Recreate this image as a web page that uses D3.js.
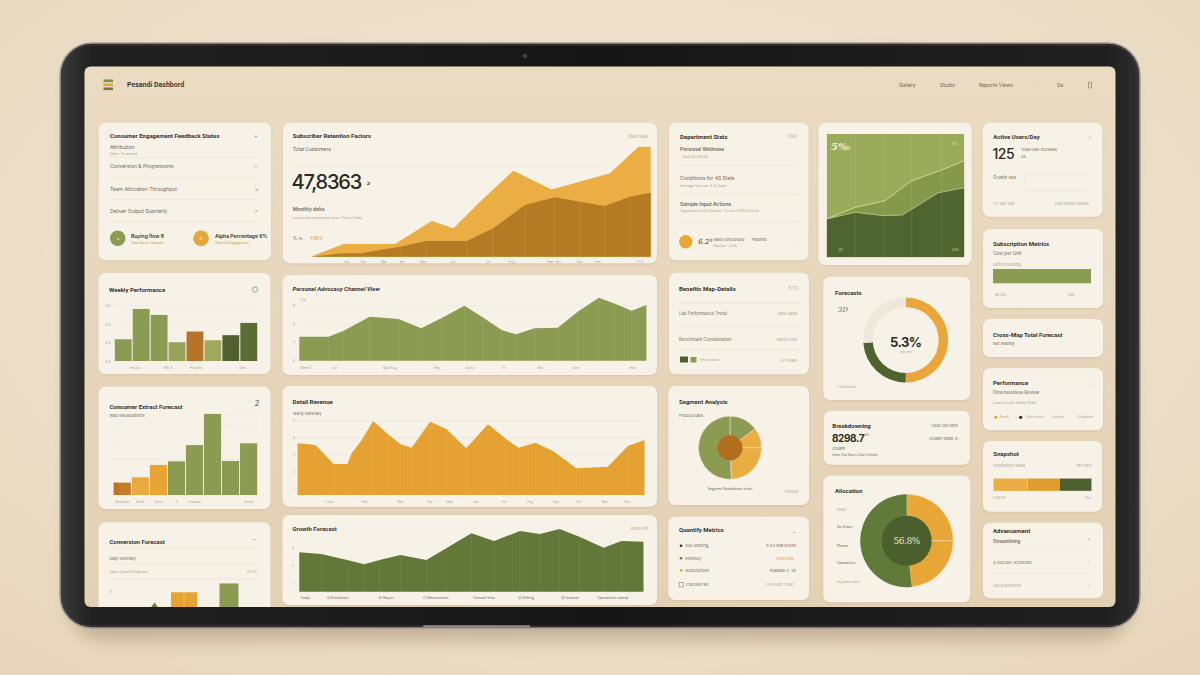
<!DOCTYPE html>
<html><head><meta charset="utf-8">
<script src="https://cdn.jsdelivr.net/npm/d3@7"></script>
<style>html,body{margin:0;padding:0;background:#efe3cf;overflow:hidden}svg{display:block}</style>
</head><body>
<svg id="chart" width="1200" height="675"></svg>
<script>
// ---------------- DATA ----------------
// Subscriber retention (card B)
const retentionPos = [0, 9.6, 24.8, 35.6, 42, 49.8, 59.6, 70.9, 88, 96.4, 100];
const retentionTotal = [0, 11.5, 11.5, 32.5, 25.8, 50, 78.2, 61.2, 75.8, 100, 100];
const retainedPos = [0, 9.6, 15, 20.4, 26.3, 34.1, 45.9, 53.7, 63, 71.8, 79.2, 86.5, 93.9, 100];
const retainedValues = [0, 3.1, 3.1, 6.1, 9.1, 14.3, 14.3, 25.8, 47, 54, 50, 46.1, 54.5, 58.2];
const retentionTickPos = [10.6, 15.5, 21.6, 26.8, 33.1, 41.8, 52.2, 59.1, 70.4, 72.8, 79.2, 84.6, 96.9];
const retentionTickLabels = ["Jan", "Feb", "Mar", "Apr", "May", "Jun", "Jul", "Aug", "Sep", "Oct", "Nov", "Dec", "YTD"];

// Share chart (card D)
const shareUpperPos = [0, 20.6, 42.4, 61.8, 83.6, 100];
const shareUpper = [31.1, 40.5, 45.9, 62.1, 70.8, 78.3];
const shareLowerPos = [0, 20.6, 41.2, 55, 81.2, 100];
const shareLower = [31.1, 36.5, 33.8, 34.3, 52.4, 56.4];

// Weekly performance bars (card G)
const weeklyCategories = ["Mon", "Focus", "Wed", "Wk 4", "Amplify", "Sat", "Sun", "Dec"];
const weeklyValues = [2.36, 5.65, 5.0, 2.03, 3.2, 2.25, 2.8, 4.13];
const weeklyTicks = [0, 2, 4, 6];
const weeklyTickLabels = ["Focus", "Wk 4", "Amplify", "Dec"];

// Advocacy channel area (card H)
const channelPos = [0, 8.4, 12.8, 20.3, 28.6, 35.1, 40.9, 47.6, 52.8, 58.3, 62.4, 67.8, 74.5, 80.2, 86.3, 90.6, 95.8, 100];
const channelValues = [3.93, 3.93, 4.91, 7.2, 6.82, 5.3, 6.94, 9.0, 7.1, 5.02, 4.32, 5.3, 5.4, 8.02, 10.3, 9.4, 8.18, 9.1];
const channelTicks = [0, 3, 6, 9];
const channelTickPos = [0.2, 10.2, 26.1, 39.6, 49.2, 59, 69.6, 79.7, 96];
const channelTickLabels = ["Week 1", "Jul", "Mid-Aug", "Sep", "Early", "N", "Nov", "Dec", "Year"];

// Forecast donut (card J)
const forecastShareLabels = ["Ahead", "On track", "Pending"];
const forecastShareValues = [50, 23.9, 26.1];

// Consumer forecast bars (card M)
const forecastCategories = ["Baseline", "Build", "Grow", "A", "Expand", "Peak", "Hold", "Scale"];
const forecastValues = [7, 10, 17, 19, 28.2, 45.8, 19.2, 29.2];
const forecastTicks = [0, 20, 30, 40];
const forecastTickLabels = ["Baseline", "Build", "Grow", "A", "Expand", "Scale"];

// Revenue area (card N)
const revenuePos = [0, 5.2, 10.4, 14.4, 15.6, 18.5, 21.8, 26, 29.7, 32.9, 38.2, 42.9, 48.6, 54.9, 60.1, 63.7, 68.6, 73.6, 80.4, 89.4, 95.2, 100];
const revenueValues = [3.68, 3.58, 2.47, 2.47, 3.10, 3.87, 4.98, 4.22, 3.62, 3.42, 4.94, 4.52, 3.39, 4.79, 3.93, 3.42, 3.71, 3.23, 2.22, 2.31, 3.52, 3.87];
const revenueTicks = [1, 2, 3, 4, 5];
const revenueTickPos = [9.1, 19.3, 29.7, 38.2, 43.9, 51.4, 59.5, 67, 74.4, 81.1, 88.6, 95.1];
const revenueTickLabels = ["7 Jan", "Feb", "Mar", "Apr", "May", "Jun", "Jul", "Aug", "Sep", "Oct", "Nov", "Dec"];

// Segment pie (card O)
const segmentLabels = ["North", "East", "South", "West"];
const segmentValues = [14.7, 10.3, 24.4, 50.6];

// Snapshot stacked bar (card Q)
const snapshotLabels = ["Direct", "Partner", "Retail"];
const snapshotValues = [34, 32, 32.4];

// Allocation pie (card R)
const allocationLabels = ["Sq Green", "Planes", "Operations"];
const allocationValues = [25, 23.2, 51.8];

// Conversion bars (card S)
const conversionCategories = ["Lead", "Trial", "Paid", "Loyal"];
const conversionValues = [2.9, 3.97, 0, 4.9];

// Growth area (card T)
const growthPos = [0, 6.4, 13.9, 18.9, 23.3, 29.4, 36.9, 42.7, 50, 56.6, 64.1, 69.9, 75.6, 81.4, 88.4, 93.6, 100];
const growthValues = [2.75, 2.65, 2.33, 2.09, 2.33, 2.6, 2.33, 2.97, 3.78, 3.36, 3.91, 3.74, 4.02, 3.6, 3.0, 3.36, 3.32];
const growthTicks = [1, 2, 3];
const growthTickPos = [1.7, 11.2, 25.2, 39.7, 53.7, 65.9, 78.6, 91.1];
const growthTickLabels = ["Today", "Q Distribution", "Ar Report", "Fi Reinvestment", "Forward View", "Q Shifting", "Q1 revenue", "Operational outlook"];

// Subscription capacity (card F)
const capacityValue = 100;

// ---------------- STYLE ----------------
const C = {
  ink: '#36312a', mid: '#6f675b', light: '#ada392', faint: '#ebe4d6', card: '#f7f2e8',
  orange: '#e8a637', orangeL: '#ebb04a', brown: '#b47a25', green: '#8b9b52',
  greenD: '#4d6130', greenM: '#637a38'
};
const FONT = "'Inter','Roboto','DejaVu Sans',sans-serif";
const COND = "'Liberation Sans Narrow','Roboto','Inter',sans-serif";

const svg = d3.select('#chart');
const W = 1200, H = 675;
const defs = svg.append('defs');

function grad(id, stops, vertical = true) {
  const g = defs.append('linearGradient').attr('id', id)
    .attr('x1', 0).attr('y1', 0).attr('x2', vertical ? 0 : 1).attr('y2', vertical ? 1 : 0);
  stops.forEach(s => g.append('stop').attr('offset', s[0]).attr('stop-color', s[1]));
}

// background
const bgG = defs.append('radialGradient').attr('id', 'bg').attr('cx', '50%').attr('cy', '40%').attr('r', '75%');
bgG.append('stop').attr('offset', '0%').attr('stop-color', '#f2e8d8');
bgG.append('stop').attr('offset', '100%').attr('stop-color', '#e8d7bd');
svg.append('rect').attr('width', W).attr('height', H).attr('fill', 'url(#bg)');

// tablet shadow
const fs = defs.append('filter').attr('id', 'tabShadow').attr('x', '-10%').attr('y', '-10%').attr('width', '120%').attr('height', '130%');
fs.append('feGaussianBlur').attr('stdDeviation', 9);
svg.append('rect').attr('x', 70).attr('y', 56).attr('width', 1060).attr('height', 584).attr('rx', 34)
  .attr('fill', '#6b5434').attr('opacity', 0.32).attr('filter', 'url(#tabShadow)');

// bezel
grad('bezel', [[0, '#3b3b3b'], [0.03, '#202020'], [0.5, '#161616'], [0.97, '#1f1f1f'], [1, '#303030']], false);
svg.append('rect').attr('x', 60).attr('y', 43).attr('width', 1080).attr('height', 585).attr('rx', 32)
  .attr('fill', 'url(#bezel)').attr('stroke', '#a19e98').attr('stroke-width', 1.5);
svg.append('rect').attr('x', 62).attr('y', 45).attr('width', 1076).attr('height', 581).attr('rx', 30)
  .attr('fill', 'none').attr('stroke', '#3e3e3e').attr('stroke-width', 1);
svg.append('circle').attr('cx', 525).attr('cy', 56).attr('r', 1.8).attr('fill', '#3a3a3a').attr('stroke', '#555').attr('stroke-width', 0.6);
svg.append('circle').attr('cx', 552).attr('cy', 56).attr('r', 0.8).attr('fill', '#333');
svg.append('rect').attr('x', 423).attr('y', 625.3).attr('width', 107).attr('height', 2).attr('rx', 1).attr('fill', '#8d8d8d');

// screen
grad('screen', [[0, '#eadbc2'], [1, '#e3d1b4']]);
svg.append('rect').attr('x', 84.5).attr('y', 66.5).attr('width', 1031).attr('height', 540.5).attr('rx', 6).attr('fill', 'url(#screen)');
defs.append('clipPath').attr('id', 'scr').append('rect').attr('x', 84.5).attr('y', 66.5).attr('width', 1031).attr('height', 540.5).attr('rx', 6);
const S = svg.append('g').attr('clip-path', 'url(#scr)');

const cf = defs.append('filter').attr('id', 'cardShadow').attr('x', '-5%').attr('y', '-5%').attr('width', '110%').attr('height', '115%');
cf.append('feDropShadow').attr('dx', 0).attr('dy', 1).attr('stdDeviation', 1.2).attr('flood-color', '#a98f66').attr('flood-opacity', 0.25);

function card(x, y, w, h) {
  const g = S.append('g');
  g.append('rect').attr('x', x).attr('y', y).attr('width', w).attr('height', h).attr('rx', 7)
    .attr('fill', C.card).attr('filter', 'url(#cardShadow)');
  return g;
}
function T(g, x, y, s, o = {}) {
  return g.append('text').attr('x', x).attr('y', y)
    .attr('font-family', o.family || FONT)
    .attr('font-size', o.size || 5)
    .attr('font-weight', o.weight || 400)
    .attr('fill', o.fill || C.ink)
    .attr('text-anchor', o.anchor || 'start')
    .attr('dominant-baseline', o.base || 'central')
    .attr('font-style', o.italic ? 'italic' : null)
    .attr('letter-spacing', o.ls != null ? o.ls : null)
    .text(s);
}
function hl(g, x1, x2, y, color = C.faint, w = 0.7) {
  g.append('line').attr('x1', x1).attr('x2', x2).attr('y1', y).attr('y2', y).attr('stroke', color).attr('stroke-width', w);
}
const TITLE = { size: 6, weight: 700, family: COND };

// ---------------- HEADER ----------------
[[79.5, '#7d8f45'], [83.5, '#dcaa3c'], [87.5, '#6d7c4c']].forEach(b =>
  S.append('rect').attr('x', 103.5).attr('y', b[0]).attr('width', 9.5).attr('height', 2.6).attr('fill', b[1]));
T(S, 127, 85, 'Pesandi Dashbord', { size: 7, weight: 600, family: COND });
[['Gallery', 899], ['Studio', 940], ['Reports Views', 979], ['·', 1034.5], ['Sa', 1057]].forEach(m =>
  T(S, m[1], 85, m[0], { size: 5, fill: C.mid, anchor: 'start' }));
S.append('rect').attr('x', 1088.5).attr('y', 82).attr('width', 3).attr('height', 6).attr('rx', 0.8).attr('fill', 'none').attr('stroke', C.mid).attr('stroke-width', 0.6);

// ---------------- CARD A ----------------
{
  const g = card(98.5, 122.7, 172.5, 137.5);
  T(g, 110, 135, 'Consumer Engagement Feedback Status', TITLE);
  T(g, 255, 136, '▴', { size: 3.5, fill: C.mid });
  T(g, 110, 147.3, 'Attribution', { size: 5, fill: C.mid });
  T(g, 110, 153.8, 'Data · 4 tracked', { size: 3.6, fill: C.light });
  [157.5, 177.5, 199.5, 222].forEach(y => hl(g, 110, 258, y));
  T(g, 110, 166, 'Conversion & Progressions', { size: 5, fill: C.mid });
  T(g, 110, 189, 'Team Allocation Throughput', { size: 5, fill: C.mid });
  T(g, 110, 211, 'Deliver Output Quarterly', { size: 5, fill: C.mid });
  T(g, 254, 166, '▫', { size: 5, fill: C.light });
  T(g, 254, 189, '⇲', { size: 5, fill: C.light });
  T(g, 254, 211, '↗', { size: 5, fill: C.light });
  g.append('circle').attr('cx', 117.7).attr('cy', 238.3).attr('r', 7.8).attr('fill', C.green);
  T(g, 117.7, 238.5, '◂', { size: 4, fill: '#f1ecd8', anchor: 'middle' });
  T(g, 131, 236.3, 'Buying flow 8', { size: 5, weight: 600 });
  T(g, 131, 243.3, 'Year Basis: Sample', { size: 3.6, fill: '#d39a35' });
  g.append('circle').attr('cx', 201).attr('cy', 238.3).attr('r', 7.8).attr('fill', C.orange);
  T(g, 201, 238.5, '↓', { size: 4.5, fill: '#fbf1d8', anchor: 'middle' });
  T(g, 215, 236.3, 'Alpha Percentage 6%', { size: 5, weight: 600 });
  T(g, 215, 243.3, 'Pace & Engagement', { size: 3.6, fill: '#d39a35' });
}

// ---------------- CARD B ----------------
{
  const g = card(283, 122.7, 374, 140.6);
  T(g, 292.7, 135.7, 'Subscriber Retention Factors', TITLE);
  T(g, 648, 136, 'Start Date', { size: 4.2, fill: C.light, anchor: 'end' });
  T(g, 292.7, 149, 'Total Customers', { size: 5.2, fill: C.mid, family: COND });
  hl(g, 292, 605, 166.7);
  T(g, 291.5, 188.5, '47,8363', { size: 20, weight: 500, base: 'alphabetic', ls: -1.2, fill: '#2e2a24' });
  T(g, 367, 181, '₂', { size: 8, italic: true, fill: C.ink });
  T(g, 292.7, 209, 'Monthly delta', { size: 4.8, weight: 600, fill: C.mid });
  T(g, 292.7, 217.7, 'Last period comparison base: Ynd to Today', { size: 3.4, fill: C.light });
  T(g, 292.7, 238.3, '%  ∞', { size: 4.6, fill: C.mid });
  T(g, 310, 238.3, '4,800', { size: 4.6, fill: '#d8982e' });

  const bx = d3.scaleLinear().domain([0, 100]).range([310.7, 650.7]);
  const by = d3.scaleLinear().domain([0, 100]).range([256.7, 146.7]);
  const area = d3.area().x(d => bx(d[0])).y0(by(0)).y1(d => by(d[1]));
  g.append('path').attr('d', area(d3.zip(retentionPos, retentionTotal))).attr('fill', '#eaae44');
  g.append('path').attr('d', area(d3.zip(retainedPos, retainedValues))).attr('fill', '#b47a24');
  d3.zip(retainedPos, retainedValues).slice(1, -1).forEach(d =>
    g.append('line').attr('x1', bx(d[0])).attr('x2', bx(d[0])).attr('y1', by(0)).attr('y2', by(d[1]))
      .attr('stroke', '#d8a655').attr('stroke-width', 0.7).attr('opacity', 0.45));
  retentionTickPos.forEach((p, i) => T(g, bx(p), 261.5, retentionTickLabels[i], { size: 3.2, fill: C.light, anchor: 'middle' }));
}

// ---------------- CARD C ----------------
{
  const g = card(669, 122.7, 139.5, 137.5);
  T(g, 680, 136, 'Department Stats', TITLE);
  T(g, 797, 136, '1.9/4', { size: 4.2, fill: C.light, anchor: 'end' });
  T(g, 680, 149.3, 'Personal Wellness', { size: 5, weight: 600, fill: C.mid });
  T(g, 682, 157.3, 'Total 42,158.08', { size: 3.6, fill: C.light });
  hl(g, 680, 798, 165.5);
  T(g, 680, 178.3, 'Conditions for 4S Stats', { size: 5, fill: C.mid });
  T(g, 680, 186, 'Average flow per 4 Outlook', { size: 3.6, fill: C.light });
  hl(g, 680, 798, 194);
  T(g, 680, 204, 'Sample Input Actions', { size: 5, weight: 600, fill: C.mid });
  T(g, 680, 210.7, 'Organization Unit Calculate · Current 1.2000 Outlook', { size: 3.2, fill: C.light });
  hl(g, 680, 798, 221.7);
  g.append('circle').attr('cx', 685.7).attr('cy', 241.7).attr('r', 6.7).attr('fill', C.orange);
  T(g, 698.3, 242, '6.2³', { size: 7, italic: true, fill: C.ink, family: "'DejaVu Serif',serif" });
  T(g, 713.3, 239.3, 'Sales Disclosure', { size: 4, fill: C.mid });
  T(g, 751.7, 239.3, 'Pipeline', { size: 4, fill: C.mid });
  T(g, 713.3, 246, 'Pipeline · Cash', { size: 3.4, fill: C.light });
  T(g, 791, 241.5, '–', { size: 5, fill: C.light });
}

// ---------------- CARD D ----------------
{
  const g = card(818.3, 122.7, 153.4, 142.3);
  const x0 = 826.7, x1 = 964.3, yT = 134, yB = 257.3;
  defs.append('clipPath').attr('id', 'dclip').append('rect').attr('x', x0).attr('y', yT).attr('width', x1 - x0).attr('height', yB - yT);
  const cg = g.append('g').attr('clip-path', 'url(#dclip)');
  const dx = d3.scaleLinear().domain([0, 100]).range([x0, x1]);
  const dy = d3.scaleLinear().domain([0, 100]).range([yB, yT]);
  cg.append('rect').attr('x', x0).attr('y', yT).attr('width', x1 - x0).attr('height', yB - yT).attr('fill', '#9aab5c');
  const area = d3.area().x(d => dx(d[0])).y0(dy(0)).y1(d => dy(d[1]));
  const line = d3.line().x(d => dx(d[0])).y(d => dy(d[1]));
  const up = d3.zip(shareUpperPos, shareUpper), lo = d3.zip(shareLowerPos, shareLower);
  cg.append('path').attr('d', area(up)).attr('fill', '#85984b');
  cg.append('path').attr('d', area(lo)).attr('fill', '#4e6431');
  [20.6, 41.2, 61.8, 83.6].forEach(p => cg.append('line').attr('x1', dx(p)).attr('x2', dx(p)).attr('y1', yT).attr('y2', yB)
    .attr('stroke', '#ffffff').attr('stroke-opacity', 0.13).attr('stroke-width', 0.8));
  cg.append('path').attr('d', line(up)).attr('fill', 'none').attr('stroke', '#cfd796').attr('stroke-width', 1);
  cg.append('path').attr('d', line(lo)).attr('fill', 'none').attr('stroke', '#b9c57f').attr('stroke-width', 0.9);
  T(g, 831, 146.7, '5%', { size: 10, weight: 700, fill: '#f3f0d8', family: "'DejaVu Serif',serif", italic: true });
  T(g, 846, 147.5, 'ts', { size: 5.5, fill: '#eef0d0' });
  T(g, 951.7, 143.3, '1.4', { size: 4, fill: '#e1e6bf' });
  T(g, 838.3, 249.3, 'Q1', { size: 4, fill: '#c7cf9a' });
  T(g, 951.7, 249.3, 'Q16', { size: 4, fill: '#c7cf9a' });
}

// ---------------- CARD E ----------------
{
  const g = card(982.7, 122.7, 119.7, 94);
  T(g, 993.3, 136.7, 'Active Users/Day', TITLE);
  T(g, 1089, 137, '▴', { size: 3.5, fill: C.light });
  T(g, 992.5, 158.5, '125', { size: 14, weight: 500, base: 'alphabetic', ls: -0.5, fill: '#2e2a24' });
  T(g, 1021, 149.3, 'Total user Increase', { size: 4, fill: C.mid });
  T(g, 1021, 156.3, '5s', { size: 4, fill: C.mid });
  T(g, 993, 177.3, 'Growth rate', { size: 4.2, fill: C.mid });
  g.append('rect').attr('x', 1025).attr('y', 175).attr('width', 63).attr('height', 16.7).attr('fill', 'none').attr('stroke', C.faint).attr('stroke-width', 0.6);
  T(g, 993, 203.3, '7% last 30d', { size: 3.8, fill: C.light });
  T(g, 1089, 203.3, 'Last Month Update', { size: 3.8, fill: C.light, anchor: 'end' });
}

// ---------------- CARD F ----------------
{
  const g = card(983, 229, 120, 79);
  T(g, 993, 243, 'Subscription Metrics', TITLE);
  T(g, 993, 253.3, 'Cost per Unit', { size: 4.6, fill: C.mid });
  T(g, 993, 264.3, 'Buffer/Planning', { size: 3.8, fill: C.light });
  const fx = d3.scaleLinear().domain([0, 100]).range([993, 1091]);
  g.append('rect').attr('x', fx(0)).attr('y', 269).attr('width', fx(capacityValue) - fx(0)).attr('height', 14.3).attr('fill', C.green);
  T(g, 995, 294, '8k 8%', { size: 3.8, fill: C.light });
  T(g, 1068, 294, '100', { size: 3.8, fill: C.light });
}

// ---------------- CARD G ----------------
{
  const g = card(98.5, 273, 172, 101);
  T(g, 109, 289, 'Weekly Performance', TITLE);
  g.append('circle').attr('cx', 255).attr('cy', 289.5).attr('r', 2.6).attr('fill', 'none').attr('stroke', C.mid).attr('stroke-width', 0.6);
  const gx = d3.scaleBand().domain(weeklyCategories).range([114.8, 257.2]).paddingInner(0.06);
  const gy = d3.scaleLinear().domain([0, 6]).range([361, 305.7]);
  weeklyTicks.forEach(t => { if (t > 0) hl(g, 113, 257, gy(t), '#efe9dd', 0.6); });
  const ax = g.append('g').attr('transform', 'translate(111,0)')
    .call(d3.axisLeft(gy).tickValues(weeklyTicks).tickSize(0).tickPadding(0));
  ax.select('.domain').remove();
  ax.selectAll('text').attr('font-size', 3.6).attr('fill', C.light).attr('font-family', FONT);
  const cols = ['#8b9b52', '#8b9b52', '#8b9b52', '#95a257', '#b8732a', '#a0a95d', '#4f6130', '#5b6c35'];
  weeklyValues.forEach((v, i) => g.append('rect').attr('x', gx(weeklyCategories[i])).attr('y', gy(v))
    .attr('width', gx.bandwidth()).attr('height', gy(0) - gy(v)).attr('fill', cols[i]));
  const offs = { 'Focus': -6, 'Wk 4': -9, 'Amplify': 1, 'Dec': -6 };
  weeklyTickLabels.forEach(c => T(g, gx(c) + gx.bandwidth() / 2 + offs[c], 367.7, c, { size: 3.6, fill: C.light, anchor: 'middle' }));
}

// ---------------- CARD H ----------------
{
  const g = card(282.4, 275, 374.6, 100);
  T(g, 292.5, 288.3, 'Personal Advocacy Channel View', Object.assign({}, TITLE, { italic: true }));
  const hx = d3.scaleLinear().domain([0, 100]).range([299.3, 646.4]);
  const hy = d3.scaleLinear().domain([0, 9]).range([360.7, 305.7]);
  channelTicks.forEach(t => { if (t > 0) hl(g, 299, 646, hy(t), '#ede7db', 0.6); });
  channelTicks.forEach(t => T(g, 294, hy(t), t, { size: 3.6, fill: C.light, anchor: 'middle' }));
  T(g, 300, 300, '1.5k', { size: 3.4, fill: C.light });
  const pts = d3.zip(channelPos, channelValues);
  g.append('path').attr('d', d3.area().x(d => hx(d[0])).y0(hy(0)).y1(d => hy(d[1]))(pts)).attr('fill', '#8b9b52');
  pts.slice(1, -1).forEach(d => g.append('line').attr('x1', hx(d[0])).attr('x2', hx(d[0])).attr('y1', hy(0)).attr('y2', hy(d[1]))
    .attr('stroke', '#ffffff').attr('stroke-opacity', 0.12).attr('stroke-width', 0.7));
  channelTickPos.forEach((p, i) => T(g, hx(p), 367.7, channelTickLabels[i], { size: 3.4, fill: C.light, anchor: i === 0 ? 'start' : 'middle' }));
}

// ---------------- CARD I ----------------
{
  const g = card(669, 272.7, 140, 101.6);
  T(g, 679, 288.3, 'Benefits Map-Details', TITLE);
  T(g, 798, 288.3, '3 1.5', { size: 4.5, fill: C.light, anchor: 'end' });
  [303.3, 326.7, 350].forEach(y => hl(g, 679, 800, y));
  T(g, 679, 313.3, 'Lab Performance Trend', { size: 4.3, fill: C.mid });
  T(g, 797, 313.3, 'Data Value', { size: 3.8, fill: C.light, anchor: 'end' });
  T(g, 679, 339.3, 'Benchmark Consideration', { size: 4.3, fill: C.mid });
  T(g, 797, 339.3, 'Metric Line', { size: 3.8, fill: C.light, anchor: 'end' });
  g.append('rect').attr('x', 680).attr('y', 356.5).attr('width', 8).attr('height', 6).attr('fill', C.greenD);
  g.append('rect').attr('x', 690.5).attr('y', 357).attr('width', 6).attr('height', 5.5).attr('fill', C.green);
  T(g, 700, 360, 'Information', { size: 3.6, fill: C.light });
  T(g, 797, 360, 'LP  Totals', { size: 3.8, fill: C.light, anchor: 'end' });
}

// ---------------- CARD J ----------------
{
  const g = card(823.3, 276.7, 147, 123.3);
  T(g, 835, 292.3, 'Forecasts', TITLE);
  T(g, 956.7, 295, '›', { size: 4, fill: C.light });
  T(g, 838, 310, '3D', { size: 7, italic: true, fill: C.mid, family: "'DejaVu Serif',serif" });
  const pie = d3.pie().sort(null);
  const arc = d3.arc().innerRadius(33).outerRadius(42.5);
  const cols = ['#eaa63a', '#4e6430', '#ede8dc'];
  const cg = g.append('g').attr('transform', 'translate(905.7,340)');
  cg.selectAll('path').data(pie(forecastShareValues)).enter().append('path').attr('d', arc).attr('fill', (d, i) => cols[i]);
  T(g, 905.7, 341.5, '5.3%', { size: 13, weight: 700, anchor: 'middle', ls: -0.6, fill: '#2e2a24' });
  T(g, 905.7, 352, 'percent', { size: 3.2, fill: C.light, anchor: 'middle' });
  T(g, 837, 387.3, '1  Certificate', { size: 3.5, fill: C.light });
}

// ---------------- CARD K ----------------
{
  const g = card(983, 319, 120, 38);
  T(g, 993, 334, 'Cross-Map Total Forecast', TITLE);
  T(g, 993, 343, 'Net Weekly', { size: 4, fill: C.mid });
}

// ---------------- CARD L ----------------
{
  const g = card(983, 368.3, 120, 62);
  T(g, 993, 382.3, 'Performance', TITLE);
  T(g, 1089, 384, '›', { size: 5, fill: C.light });
  T(g, 993, 392, 'Dimensionless Review', { size: 4.4, fill: C.mid });
  T(g, 993, 402.7, 'Lean Growth Stable (Edit)', { size: 3.6, fill: C.light });
  g.append('circle').attr('cx', 995.7).attr('cy', 417.3).attr('r', 1.6).attr('fill', C.orange);
  T(g, 1000, 417.3, 'Fresh', { size: 3.5, fill: '#d39a35' });
  g.append('circle').attr('cx', 1020.7).attr('cy', 417.3).attr('r', 1.6).attr('fill', '#2d2a25');
  T(g, 1026, 417.3, 'Gain trend', { size: 3.5, fill: C.light });
  T(g, 1052, 417.3, 'Growth', { size: 3.5, fill: C.light });
  T(g, 1077, 417.3, 'Guidance', { size: 3.5, fill: C.light });
}

// ---------------- CARD M ----------------
{
  const g = card(98.5, 386.7, 172, 122.3);
  T(g, 109.4, 406, 'Consumer Extract Forecast', TITLE);
  T(g, 257, 403, '2', { size: 8, fill: C.mid, italic: true, anchor: 'middle' });
  T(g, 109.4, 415, 'Web visualizations', { size: 4, fill: C.mid });
  const mx = d3.scaleBand().domain(forecastCategories).range([113.7, 257.2]).paddingInner(0.05);
  const my = d3.scaleLinear().domain([0, 50]).range([495, 406.5]);
  forecastTicks.forEach(t => { if (t > 0) hl(g, 113, 257, my(t), '#efe9dd', 0.6); });
  forecastTicks.forEach(t => T(g, 112, my(t) - (t === 0 ? 5 : 0), t === 0 ? '·' : '·', { size: 4, fill: C.light, anchor: 'middle' }));
  g.append('rect').attr('x', 228).attr('y', 414).attr('width', 29).attr('height', 15).attr('fill', 'none').attr('stroke', '#efe9dd').attr('stroke-width', 0.6);
  const cols = ['#c47d27', '#e9ab40', '#e8a535', '#8b9b52', '#8b9b52', '#8b9b52', '#8b9b52', '#8b9b52'];
  forecastValues.forEach((v, i) => g.append('rect').attr('x', mx(forecastCategories[i])).attr('y', my(v))
    .attr('width', mx.bandwidth()).attr('height', my(0) - my(v)).attr('fill', cols[i]));
  g.append('rect').attr('x', mx(forecastCategories[0])).attr('y', my(forecastValues[0]))
    .attr('width', mx.bandwidth() * 0.3).attr('height', my(0) - my(forecastValues[0])).attr('fill', '#b06d1f').attr('opacity', 0.5);
  forecastTickLabels.forEach(c => T(g, mx(c) + mx.bandwidth() / 2, 501.7, c, { size: 3.5, fill: C.light, anchor: 'middle' }));
}

// ---------------- CARD N ----------------
{
  const g = card(282.4, 386, 374.6, 120.7);
  T(g, 292.5, 401, 'Detail Revenue', TITLE);
  T(g, 292.5, 413.3, 'Yearly summary', { size: 3.8, fill: C.mid });
  const nx = d3.scaleLinear().domain([0, 100]).range([297.5, 644.5]);
  const ny = d3.scaleLinear().domain([0.66, 5]).range([495, 420.7]);
  revenueTicks.forEach(t => hl(g, 297, 645, ny(t), '#ede7db', 0.6));
  revenueTicks.forEach(t => T(g, 295, ny(t), t, { size: 3.4, fill: C.light, anchor: 'end' }));
  const pts = d3.zip(revenuePos, revenueValues);
  g.append('path').attr('d', d3.area().x(d => nx(d[0])).y0(ny.range()[0]).y1(d => ny(d[1]))(pts)).attr('fill', '#e5a232');
  pts.slice(1, -1).forEach(d => g.append('line').attr('x1', nx(d[0])).attr('x2', nx(d[0])).attr('y1', ny.range()[0]).attr('y2', ny(d[1]))
    .attr('stroke', '#ffffff').attr('stroke-opacity', 0.1).attr('stroke-width', 0.7));
  revenueTickPos.forEach((p, i) => T(g, nx(p), 501.7, revenueTickLabels[i], { size: 3.4, fill: C.light, anchor: 'middle' }));
}

// ---------------- CARD O ----------------
{
  const g = card(668.3, 386, 140.7, 119);
  T(g, 679, 401, 'Segment Analysis', TITLE);
  T(g, 679, 415.7, 'Protocol data', { size: 3.8, fill: C.mid });
  const pie = d3.pie().sort(null);
  const arc = d3.arc().innerRadius(0).outerRadius(31.5);
  const cols = ['#8b9b52', '#e9ad42', '#e9ad42', '#8b9b52'];
  const cg = g.append('g').attr('transform', 'translate(730,447.8)');
  cg.selectAll('path').data(pie(segmentValues)).enter().append('path').attr('d', arc)
    .attr('fill', (d, i) => cols[i]).attr('stroke', '#e9dfc5').attr('stroke-width', 0.6);
  cg.append('circle').attr('r', 12.5).attr('fill', '#b06e1e');
  T(g, 730, 489.3, 'Segment Breakdown chart', { size: 3.6, fill: C.mid, anchor: 'middle' });
  T(g, 798, 491.7, 'PG659', { size: 4, fill: C.light, anchor: 'end' });
}

// ---------------- CARD P ----------------
{
  const g = card(823.7, 411, 146.3, 53.7);
  T(g, 832.3, 425.7, 'Breakdowning', TITLE);
  T(g, 957.7, 425.7, 'Hour cell Item', { size: 4, fill: C.mid, anchor: 'end' });
  T(g, 832, 442, '8298.7', { size: 10, weight: 700, base: 'alphabetic', ls: -0.4, fill: '#2e2a24' });
  T(g, 862, 435, 'val%', { size: 3.2, fill: C.mid });
  T(g, 957.7, 438.3, 'Growth Index: 9', { size: 3.8, fill: C.mid, anchor: 'end' });
  T(g, 832.3, 448.3, 'Growth', { size: 3.8, fill: C.mid });
  T(g, 832.3, 455, 'Items  Top Status Chart  Outlook', { size: 3.1, fill: C.mid });
}

// ---------------- CARD Q ----------------
{
  const g = card(983, 441, 119, 70.7);
  T(g, 993.3, 453.3, 'Snapshot', TITLE);
  T(g, 993.3, 465, 'Distribution Share', { size: 3.8, fill: C.light });
  T(g, 1092, 465, 'MLYIN\u2019S', { size: 3.8, fill: C.light, anchor: 'end' });
  const qx = d3.scaleLinear().domain([0, d3.sum(snapshotValues)]).range([993.3, 1091.7]);
  const cols = ['#eaad44', '#e09b2d', '#4e6030'];
  let acc = 0;
  snapshotValues.forEach((v, i) => {
    g.append('rect').attr('x', qx(acc)).attr('y', 478.3).attr('width', qx(acc + v) - qx(acc)).attr('height', 12.7)
      .attr('fill', cols[i]).attr('stroke', '#f4e6c8').attr('stroke-width', 0.4);
    acc += v;
  });
  T(g, 993.3, 498.3, '5.19/20', { size: 3.6, fill: C.light });
  T(g, 1091, 498.3, 'Yes', { size: 3.6, fill: C.light, anchor: 'end' });
}

// ---------------- CARD R ----------------
{
  const g = card(823.3, 475.7, 147, 126.6);
  T(g, 835, 490, 'Allocation', TITLE);
  T(g, 836.7, 510, '2008 ···', { size: 3.5, fill: C.light });
  allocationLabels.forEach((l, i) => T(g, 836.7, [527.3, 545.7, 563.3][i], l, { size: 3.6, fill: C.mid }));
  T(g, 836.7, 581.7, 'Sq years total', { size: 3.5, fill: C.light });
  const pie = d3.pie().sort(null);
  const arc = d3.arc().innerRadius(0).outerRadius(46.5);
  const cols = ['#e8a636', '#e8a636', '#607a39'];
  const cg = g.append('g').attr('transform', 'translate(906.7,540.7)');
  cg.selectAll('path').data(pie(allocationValues)).enter().append('path').attr('d', arc)
    .attr('fill', (d, i) => cols[i]).attr('stroke', '#f0d9a8').attr('stroke-width', (d, i) => i < 2 ? 0.7 : 0);
  cg.append('circle').attr('r', 25).attr('fill', '#4b5e2d');
  T(g, 906.7, 541, '56.8%', { size: 9, weight: 500, fill: '#ece3c6', anchor: 'middle', family: "'DejaVu Serif',serif", ls: -0.4 });
}

// ---------------- CARD S ----------------
{
  const g = card(98.5, 522.3, 172, 100);
  T(g, 109.4, 541.7, 'Conversion Forecast', TITLE);
  T(g, 253, 539, '–', { size: 5, fill: C.mid });
  hl(g, 109, 258, 548);
  T(g, 109.4, 558, 'Daily summary', { size: 3.8, fill: C.mid });
  hl(g, 109, 258, 564);
  T(g, 109.4, 571.7, 'Value Growth Segment', { size: 3.6, fill: C.light });
  T(g, 257, 571.7, '9.0 %', { size: 3.6, fill: C.light, anchor: 'end' });
  hl(g, 109, 258, 579);
  const sx = d3.scaleBand().domain(conversionCategories).range([142, 242]).paddingInner(0.2).paddingOuter(0.1);
  const sy = d3.scaleLinear().domain([0, 6]).range([630, 573]);
  hl(g, 113, 257, sy(4), '#efe9dd', 0.6);
  T(g, 111, sy(4), '4', { size: 3.6, fill: C.light, anchor: 'middle' });
  const c0 = sx(conversionCategories[0]) + sx.bandwidth() / 2;
  g.append('path').attr('d', `M${c0 - 3.5},${sy(0)} L${c0 - 3.5},${sy(2.4)} L${c0},${sy(conversionValues[0])} L${c0 + 3.5},${sy(2.4)} L${c0 + 3.5},${sy(0)} Z`).attr('fill', '#6f8240');
  const cols = [null, '#e8a232', C.green, '#8b9b52'];
  conversionValues.forEach((v, i) => {
    if (i === 0 || v <= 0) return;
    g.append('rect').attr('x', sx(conversionCategories[i]) + (i === 1 ? 1.5 : 0)).attr('y', sy(v))
      .attr('width', sx.bandwidth() + (i === 1 ? 6 : -1)).attr('height', sy(0) - sy(v)).attr('fill', cols[i]);
  });
  const mid1 = sx(conversionCategories[1]) + sx.bandwidth() / 2 + 4.5;
  g.append('line').attr('x1', mid1).attr('x2', mid1).attr('y1', sy(conversionValues[1])).attr('y2', sy(0)).attr('stroke', '#f3c77a').attr('stroke-width', 0.7);
}

// ---------------- CARD T ----------------
{
  const g = card(282.4, 515, 374.6, 90);
  T(g, 292.5, 528.3, 'Growth Forecast', TITLE);
  T(g, 648, 528.3, 'Build Unit', { size: 3.8, fill: C.light, anchor: 'end' });
  const tx = d3.scaleLinear().domain([0, 100]).range([299.3, 643.5]);
  const ty = d3.scaleLinear().domain([0.6, 3]).range([591.7, 547.66]);
  growthTicks.forEach(t => T(g, 293, ty(t), t, { size: 3.4, fill: C.light, anchor: 'middle' }));
  const pts = d3.zip(growthPos, growthValues);
  g.append('path').attr('d', d3.area().x(d => tx(d[0])).y0(ty.range()[0]).y1(d => ty(d[1]))(pts)).attr('fill', '#627838');
  pts.slice(1, -1).forEach(d => g.append('line').attr('x1', tx(d[0])).attr('x2', tx(d[0])).attr('y1', ty.range()[0]).attr('y2', ty(d[1]))
    .attr('stroke', '#ffffff').attr('stroke-opacity', 0.1).attr('stroke-width', 0.7));
  growthTickPos.forEach((p, i) => T(g, tx(p), 597.7, growthTickLabels[i], { size: 3.4, fill: C.mid, anchor: 'middle' }));
}

// ---------------- CARD U ----------------
{
  const g = card(668.3, 516.7, 140.7, 83.3);
  T(g, 679, 529.3, 'Quantify Metrics', TITLE);
  T(g, 793, 532, '–', { size: 5, fill: C.mid });
  g.append('circle').attr('cx', 681).attr('cy', 545.7).attr('r', 1.3).attr('fill', '#2d2a25');
  T(g, 685, 545.7, 'Sub-ordering', { size: 3.7, fill: C.mid });
  T(g, 796, 545.7, '9 4.5 new scores', { size: 3.7, fill: C.mid, anchor: 'end' });
  g.append('circle').attr('cx', 681).attr('cy', 558.3).attr('r', 1.3).attr('fill', C.greenM);
  T(g, 685, 558.3, 'Inventory', { size: 3.7, fill: C.mid });
  T(g, 794, 558.3, 'Grow Rate', { size: 3.7, fill: '#e0a43c', anchor: 'end' });
  g.append('rect').attr('x', 679.8).attr('y', 569).attr('width', 2.5).attr('height', 2.5).attr('fill', C.orange);
  T(g, 685, 570.3, 'Subscriptions', { size: 3.7, fill: C.mid });
  T(g, 796, 570.3, 'Available 4 · lot', { size: 3.7, fill: C.mid, anchor: 'end' });
  g.append('rect').attr('x', 679).attr('y', 582.5).attr('width', 4.5).attr('height', 4.5).attr('fill', 'none').attr('stroke', C.mid).attr('stroke-width', 0.5);
  T(g, 686, 584.7, 'Checklist set', { size: 3.7, fill: C.mid });
  T(g, 794, 584.7, 'FYI Enum. Chart', { size: 3.7, fill: C.light, anchor: 'end' });
}

// ---------------- CARD V ----------------
{
  const g = card(983, 522.7, 120, 75.6);
  T(g, 993, 530.7, 'Advancement', TITLE);
  T(g, 993, 541.7, 'Streamlining', { size: 4.5, weight: 600, fill: C.mid });
  T(g, 1088, 539.3, '˄', { size: 4, fill: C.mid });
  hl(g, 993, 1090, 551.7);
  T(g, 993, 562.7, 'Q Sub Dev. Scorecard', { size: 3.7, fill: C.mid });
  T(g, 1088, 562.7, '˅', { size: 4, fill: C.light });
  hl(g, 993, 1090, 573.3);
  T(g, 993, 585, 'Lab & Milestone', { size: 3.7, fill: C.light });
  T(g, 1088, 585, '˅', { size: 4, fill: C.light });
}
</script>
</body></html>
